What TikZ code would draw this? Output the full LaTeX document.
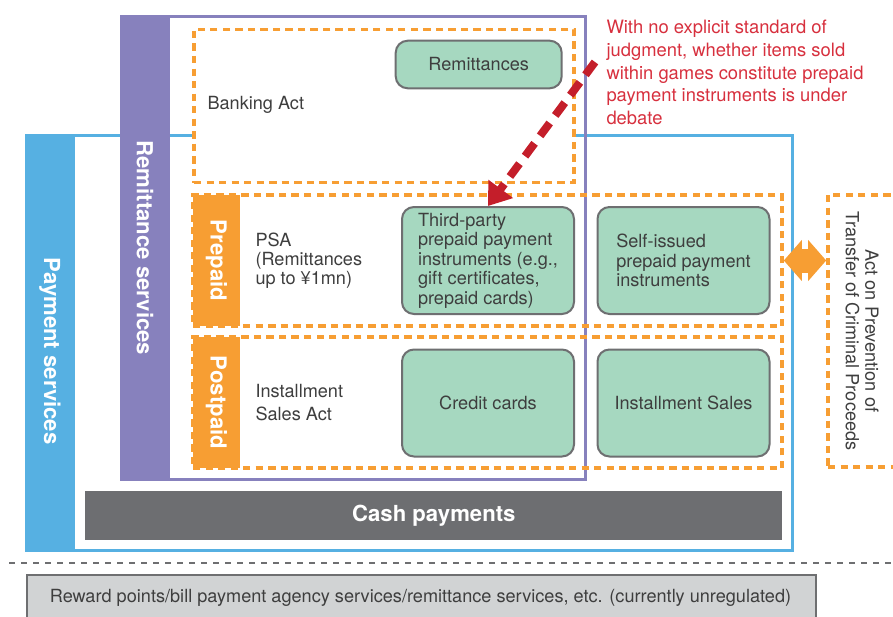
\documentclass[tikz,border=0pt]{standalone}
\usepackage{fontspec}
\setmainfont{TeX Gyre Heros}
\usetikzlibrary{arrows.meta}

\definecolor{psblue}{RGB}{86,176,226}
\definecolor{rspurple}{RGB}{135,129,189}
\definecolor{laworange}{RGB}{247,158,51}
\definecolor{svcgreen}{RGB}{166,216,192}
\definecolor{boxgray}{RGB}{110,111,113}
\definecolor{cashgray}{RGB}{109,110,113}
\definecolor{freegray}{RGB}{209,211,212}
\definecolor{notered}{RGB}{215,48,62}
\definecolor{arrowred}{RGB}{196,30,42}
\definecolor{bodytext}{RGB}{62,62,62}

\newcommand{\bodyfont}{\fontsize{13.6}{14.6}\selectfont}
\newcommand{\tabfont}{\fontsize{16.6}{18}\selectfont\bfseries}

\tikzset{every picture/.style={line width=0.75pt}}
\tikzset{
  svcbox/.style={draw=boxgray, line width=1.5pt, fill=svcgreen, rounded corners=9pt,
    text=bodytext, font=\bodyfont, align=left, inner sep=0pt},
  lawbox/.style={draw=laworange, line width=2.7pt, dash pattern=on 5.5pt off 3.9pt, inner sep=0pt},
  sidetab/.style={fill=laworange, text=white, font=\tabfont, rotate=-90, inner sep=0pt,
    minimum width=98.25pt, minimum height=35.25pt},
  lawtext/.style={text=bodytext, font=\bodyfont, align=left, inner sep=0pt},
  bandtext/.style={text=white, font=\tabfont, rotate=-90, inner sep=0pt},
}

\begin{document}
\begin{tikzpicture}[x=0.75pt,y=0.75pt,yscale=-1,xscale=1]
\useasboundingbox (0,0) rectangle (893,617);

%Shape: Payment services frame
\draw [color=psblue, line width=2.25pt, fill=white] (26.5,135.5) rectangle (792.5,550.7);
\fill [psblue] (25,134) rectangle (75,552);
%Shape: Remittance services frame
\draw [color=rspurple, line width=2.25pt] (121.5,16.8) rectangle (585.7,479.5);
\fill [rspurple] (120,15) rectangle (170,481);

%Shape: Banking Act box
\node [lawbox, fill=white, minimum width=285pt, minimum height=115pt] (banking) at (384,106) {};
%Shape: Prepaid row
\node [sidetab] (prepaidtab) at (216.5,260.5) {Prepaid};
\node [lawbox, minimum width=441.75pt, minimum height=98.25pt] (prepaidrow) at (487.5,260.5) {};
%Shape: Postpaid row
\node [sidetab] (postpaidtab) at (216.5,402.5) {Postpaid};
\node [lawbox, minimum width=441.75pt, minimum height=98.25pt] (postpaidrow) at (487.5,402.5) {};
%Shape: Act on Prevention box
\node [lawbox, minimum width=57.75pt, minimum height=204pt] (pmlabox) at (866.5,331) {};

%Shape: service boxes
\node [svcbox, minimum width=124.5pt, minimum height=35.7pt] (remit) at (478.7,64.5) {Remittances};
\node [svcbox, minimum width=129pt, minimum height=80.25pt] (third) at (488,260.5) {Third-party\\prepaid payment\\instruments (e.g.,\\gift certificates,\\prepaid cards)};
\node [svcbox, minimum width=129pt, minimum height=80.25pt] (selfissued) at (683.5,260.5) {Self-issued\\prepaid payment\\instruments};
\node [svcbox, minimum width=129pt, minimum height=80.25pt] (credit) at (488,403) {Credit cards};
\node [svcbox, minimum width=129pt, minimum height=80.25pt] (instsales) at (683.5,403) {Installment Sales};

%Shape: Cash payments bar
\node [fill=cashgray, text=white, font=\tabfont, minimum width=522.75pt, minimum height=37pt] (cash) at (433.8,515.3) {Cash payments};

%Straight Lines: regulation boundary
\draw [color=boxgray, line width=2pt, dash pattern=on 4.5pt off 4.5pt] (9,563) -- (893,563);
%Shape: unregulated box
\draw [draw=boxgray, line width=1.5pt, fill=freegray] (27,574.5) rectangle (816,640);

% Text Node
\node [bandtext] (pstext) at (50,351) {Payment services};
% Text Node
\node [bandtext] (rstext) at (145,248) {Remittance services};
% Text Node
\node [lawtext, anchor=west] (bankact) at (207,105) {Banking Act};
% Text Node
\node [lawtext, anchor=north west] (psa) at (255,232) {PSA\\(Remittances\\up to ¥1mn)};
% Text Node
\node [lawtext, anchor=north west, font=\fontsize{13.6}{17.25}\selectfont] (isa) at (255,384) {Installment\\Sales Act};
% Text Node
\node [lawtext, rotate=-90, align=center] (pmlatext) at (862,331) {Act on Prevention of\\Transfer of Criminal Proceeds};
% Text Node
\node [lawtext, anchor=north west, text=notered, font=\fontsize{13.8}{17}\selectfont] (note) at (606,20) {With no explicit standard of\\judgment, whether items sold\\within games constitute prepaid\\payment instruments is under\\debate};
% Text Node
\node [lawtext, font=\fontsize{13.6}{15}\selectfont] (unreg) at (420.5,598) {Reward points/bill payment agency services/remittance services, etc. (currently unregulated)};

%Straight Lines: note arrow
\coordinate (notetail) at (595,62);
\draw [color=arrowred, line width=6pt, dash pattern=on 12pt off 7pt, -{Triangle[length=16pt,width=22pt]}] (notetail) -- (third.north);
%Straight Lines: double arrow
\draw [color=laworange, line width=18pt, {Triangle[length=13.5pt,width=30pt]}-{Triangle[length=13.5pt,width=30pt]}] (prepaidrow.east) -- (prepaidrow.east -| pmlabox.west);

\end{tikzpicture}
\end{document}
